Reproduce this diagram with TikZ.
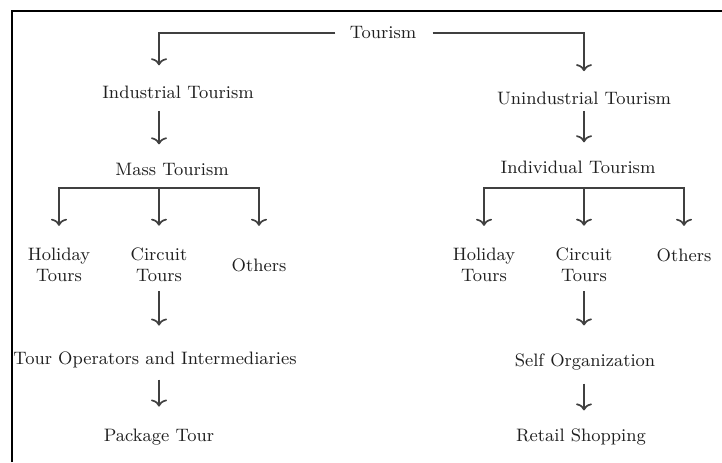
\documentclass[tikz,border=0pt]{standalone}
\usepackage{tikz}
\usetikzlibrary{arrows.meta}

\tikzset{
    item/.style={inner sep=0pt, align=center, text=black!88,
        font=\fontsize{9}{10.5}\selectfont},
    arr/.style={-{Computer Modern Rightarrow[length=3.5pt,width=8pt]},
        draw=black!75, line width=0.85pt}
}

\begin{document}
\begin{tikzpicture}[x=0.5pt, y=-0.5pt]
    \useasboundingbox (0,0) rectangle (722,462);
    \draw[line width=1pt] (12,462) -- (12,11) -- (722,11);

    \node[item] (tourism) at (383, 33) {Tourism};
    \node[item] (industrial) at (178, 92) {Industrial Tourism};
    \node[item] (unindustrial) at (584, 98) {Unindustrial Tourism};
    \node[item] (mass) at (172, 169) {Mass Tourism};
    \node[item] (individual) at (578, 167) {Individual Tourism};

    \node[item] (holidayL) at (59, 265) {Holiday\\Tours};
    \node[item] (circuitL) at (159, 265) {Circuit\\Tours};
    \node[item] (othersL) at (259, 265) {Others};
    \node[item] (holidayR) at (484, 265) {Holiday\\Tours};
    \node[item] (circuitR) at (584, 265) {Circuit\\Tours};
    \node[item] (othersR) at (684, 255) {Others};

    \node[item] (operators) at (155, 360) {Tour Operators and Intermediaries};
    \node[item] (package) at (159, 437) {Package Tour};
    \node[item] (selforg) at (585, 362) {Self Organization};
    \node[item] (retail) at (581, 437) {Retail Shopping};

    \coordinate (forkL) at (159, 188);
    \coordinate (forkR) at (584, 188);

    % top split
    \draw[arr, shorten <=7pt, shorten >=10pt] (tourism.west) -| (circuitL |- industrial.north);
    \draw[arr, shorten <=8pt, shorten >=10pt] (tourism.east) -| (circuitR |- unindustrial.north);

    % left branch
    \draw[arr, shorten <=6pt, shorten >=9pt] (circuitL |- industrial.south) -- (circuitL |- mass.north);
    \draw[arr, shorten >=11pt] (forkL) -| (holidayL.north);
    \draw[arr, shorten >=11pt] (forkL) -- (circuitL.north);
    \draw[arr, shorten >=11pt] (forkL) -| (holidayL.north -| othersL);
    \draw[arr, shorten <=4.5pt, shorten >=13pt] (circuitL.south) -- (circuitL |- operators.north);
    \draw[arr, shorten <=5.5pt, shorten >=11pt] (circuitL |- operators.south) -- (circuitL |- package.north);

    % right branch
    \draw[arr, shorten <=3pt, shorten >=9pt] (circuitR |- unindustrial.south) -- (circuitR |- individual.north);
    \draw[arr, shorten >=11pt] (forkR) -| (holidayR.north);
    \draw[arr, shorten >=11pt] (forkR) -- (circuitR.north);
    \draw[arr, shorten >=11pt] (forkR) -| (holidayR.north -| othersR);
    \draw[arr, shorten <=4.5pt, shorten >=14pt] (circuitR.south) -- (circuitR |- selforg.north);
    \draw[arr, shorten <=6.5pt, shorten >=9pt] (circuitR |- selforg.south) -- (circuitR |- retail.north);
\end{tikzpicture}
\end{document}
